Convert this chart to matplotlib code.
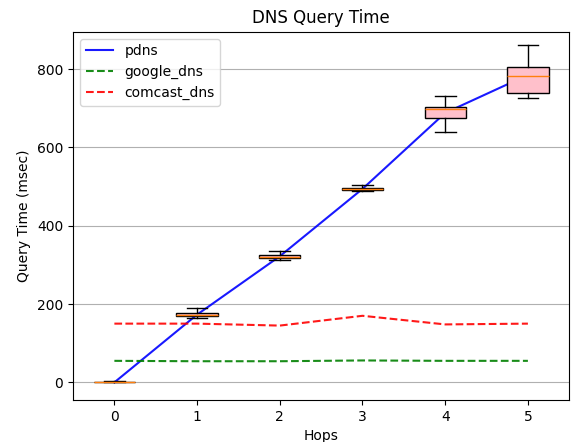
import matplotlib
matplotlib.use("Agg")
import matplotlib.pyplot as plt

hops = [0, 1, 2, 3, 4, 5]
hop_labels = ["0", "1", "2", "3", "4", "5"]

# pdns box statistics per hop (msec)
pdns_med = [1, 173, 321, 494, 698, 782]
pdns_q1 = [0, 169, 317, 491, 674, 739]
pdns_q3 = [2, 177, 325, 497, 702, 805]
pdns_lo = [0, 165, 312, 489, 638, 725]
pdns_hi = [3, 190, 336, 503, 730, 862]

# mean line values
pdns_line = [0, 173, 322, 494, 688, 785]
google_dns = [55, 54, 54, 56, 55, 55]
comcast_dns = [150, 150, 145, 170, 148, 150]

fig, ax = plt.subplots(figsize=(5.75, 4.42), dpi=100)

ax.plot(hops, pdns_line, color="blue", label="pdns", alpha=0.9, zorder=2)
ax.plot(hops, google_dns, color="green", linestyle="--", label="google_dns", alpha=0.9, zorder=2)
ax.plot(hops, comcast_dns, color="red", linestyle="--", label="comcast_dns", alpha=0.9, zorder=2)

stats = []
for i in range(len(hops)):
    stats.append(dict(med=pdns_med[i], q1=pdns_q1[i], q3=pdns_q3[i],
                      whislo=pdns_lo[i], whishi=pdns_hi[i], fliers=[]))
ax.bxp(stats, positions=hops, widths=0.5, patch_artist=True,
       boxprops=dict(facecolor="pink", edgecolor="black", zorder=3),
       whiskerprops=dict(zorder=3), capprops=dict(zorder=3),
       medianprops=dict(color="#ff7f0e", zorder=4), showfliers=False)

ax.set_xticks(hops)
ax.set_xticklabels(hop_labels)
ax.set_xlim(-0.5, 5.5)
ax.set_ylim(-45, 895)
ax.yaxis.grid(True, color="#b0b0b0")
ax.set_axisbelow(True)
ax.set_title("DNS Query Time")
ax.set_xlabel("Hops")
ax.set_ylabel("Query Time (msec)")
ax.legend(loc="upper left")

fig.subplots_adjust(left=0.127, right=0.99, top=0.928, bottom=0.095)
fig.savefig("out.png", dpi=100)
